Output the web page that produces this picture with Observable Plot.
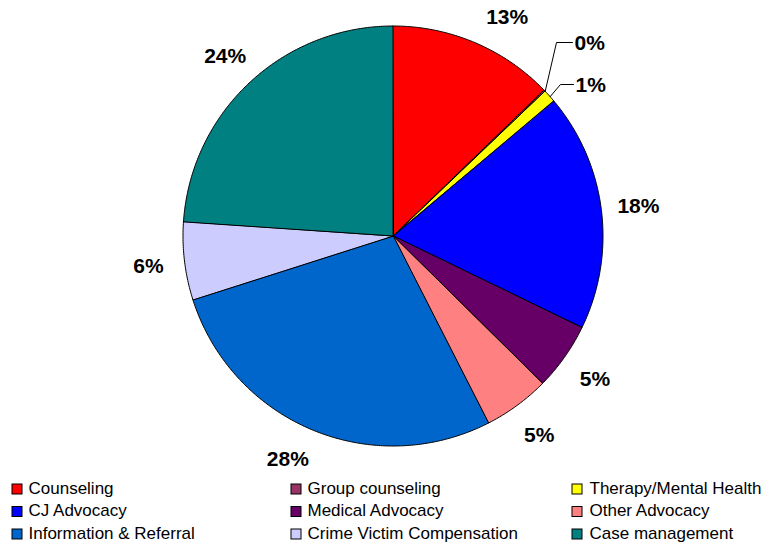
<!DOCTYPE html>
<html>
<head>
<meta charset="utf-8">
<script src="https://cdn.jsdelivr.net/npm/d3@7"></script>
<script src="https://cdn.jsdelivr.net/npm/@observablehq/plot@0.6"></script>
<style>
  html, body { margin: 0; padding: 0; background: #ffffff; }
  #chart { width: 769px; height: 546px; }
</style>
</head>
<body>
<div id="chart"></div>
<script>
// ---- data ----
const categories = [
  "Counseling", "Group counseling", "Therapy/Mental Health",
  "CJ Advocacy", "Medical Advocacy", "Other Advocacy",
  "Information & Referral", "Crime Victim Compensation", "Case management"
];
const values = [12.8, 0.1, 1.0, 18.3, 5.2, 5.1, 27.6, 6.0, 23.9];
const colors = [
  "#FF0000", "#993366", "#FFFF00",
  "#0000FF", "#660066", "#FF8080",
  "#0066CC", "#CCCCFF", "#008080"
];

// ---- layout constants ----
const W = 769, H = 546;
const cx = 393, cy = 236, R = 210;
const labelR = R * 1.175;
const labelYMin = 17, labelYMax = 459;   // labels kept inside the plot area
const font = "'Liberation Sans', Arial, Helvetica, sans-serif";

// pie geometry from data
const total = d3.sum(values);
const arcs = d3.pie().sort(null).value(d => d)(values);
const pt = (a, r) => [cx + r * Math.sin(a), cy - r * Math.cos(a)];

const sliceRows = [];
arcs.forEach((a, i) => {
  const n = Math.max(2, Math.ceil((a.endAngle - a.startAngle) / (Math.PI / 360)));
  for (let k = 0; k <= n; k++) {
    const ang = a.startAngle + (a.endAngle - a.startAngle) * k / n;
    const [x, y] = pt(ang, R);
    sliceRows.push({cat: categories[i], color: colors[i], x, y});
  }
});

// labels: on a circle around the pie, slid along it to stay inside the plot area
const pctText = v => Math.round(v / total * 100) + "%";
const bigLabels = [];
const smallIdx = [];
arcs.forEach((a, i) => {
  if (values[i] < 2) { smallIdx.push(i); return; }
  const mid = (a.startAngle + a.endAngle) / 2;
  let [x, y] = pt(mid, labelR);
  const yc = Math.max(labelYMin, Math.min(labelYMax, y));
  if (yc !== y) {
    const dy = yc - cy;
    const dx = Math.sqrt(Math.max(0, labelR * labelR - dy * dy));
    x = cx + Math.sign(Math.sin(mid)) * dx;
    y = yc;
  }
  bigLabels.push({x, y, text: pctText(values[i])});
});

// leader-line layout for the tiny slices (stacked to the upper right)
const smallSpots = [{ex: 556, ey: 42, len: 16}, {ex: 560, ey: 84, len: 13}];
const leaderRows = [];
const smallLabels = [];
smallIdx.forEach((i, k) => {
  const a = arcs[i];
  const mid = (a.startAngle + a.endAngle) / 2;
  const [sx, sy] = pt(mid, R);
  const s = smallSpots[k];
  leaderRows.push({id: i, x: sx, y: sy});
  leaderRows.push({id: i, x: s.ex, y: s.ey});
  leaderRows.push({id: i, x: s.ex + s.len, y: s.ey});
  smallLabels.push({x: s.ex + s.len + 2, y: s.ey + 1, text: pctText(values[i])});
});

// legend layout (3 columns x 3 rows, row-major)
const colSwatchX = [12, 291, 572];
const colTextX = [28, 307, 589];
const rowY = [488, 510.5, 533];
const legendRows = categories.map((c, i) => ({
  cat: c, color: colors[i],
  sx: colSwatchX[i % 3], tx: colTextX[i % 3], y: rowY[Math.floor(i / 3)]
}));

const chart = Plot.plot({
  width: W,
  height: H,
  margin: 0,
  x: {domain: [0, W], range: [0, W], axis: null},
  y: {domain: [0, H], range: [0, H], axis: null},
  color: {type: "identity"},
  style: {fontFamily: font, background: "#ffffff", color: "#000000"},
  marks: [
    Plot.area(sliceRows, {
      x1: "x", y1: "y", x2: () => cx, y2: () => cy,
      z: "cat", fill: "color", stroke: "#000000", strokeWidth: 1, strokeLinejoin: "round"
    }),
    Plot.line(leaderRows, {x: "x", y: "y", z: "id", stroke: "#000000", strokeWidth: 1}),
    Plot.text(bigLabels, {
      x: "x", y: "y", text: "text",
      fontSize: 21, fontWeight: "bold", fill: "#000000"
    }),
    Plot.text(smallLabels, {
      x: "x", y: "y", text: "text", textAnchor: "start",
      fontSize: 21, fontWeight: "bold", fill: "#000000"
    }),
    Plot.rect(legendRows, {
      x1: "sx", x2: d => d.sx + 10, y1: d => d.y - 4, y2: d => d.y + 6,
      fill: "color", stroke: "#000000", strokeWidth: 1
    }),
    Plot.text(legendRows, {
      x: "tx", y: "y", text: "cat", textAnchor: "start",
      fontSize: 17, fill: "#000000"
    })
  ]
});

document.getElementById("chart").appendChild(chart);
</script>
</body>
</html>
